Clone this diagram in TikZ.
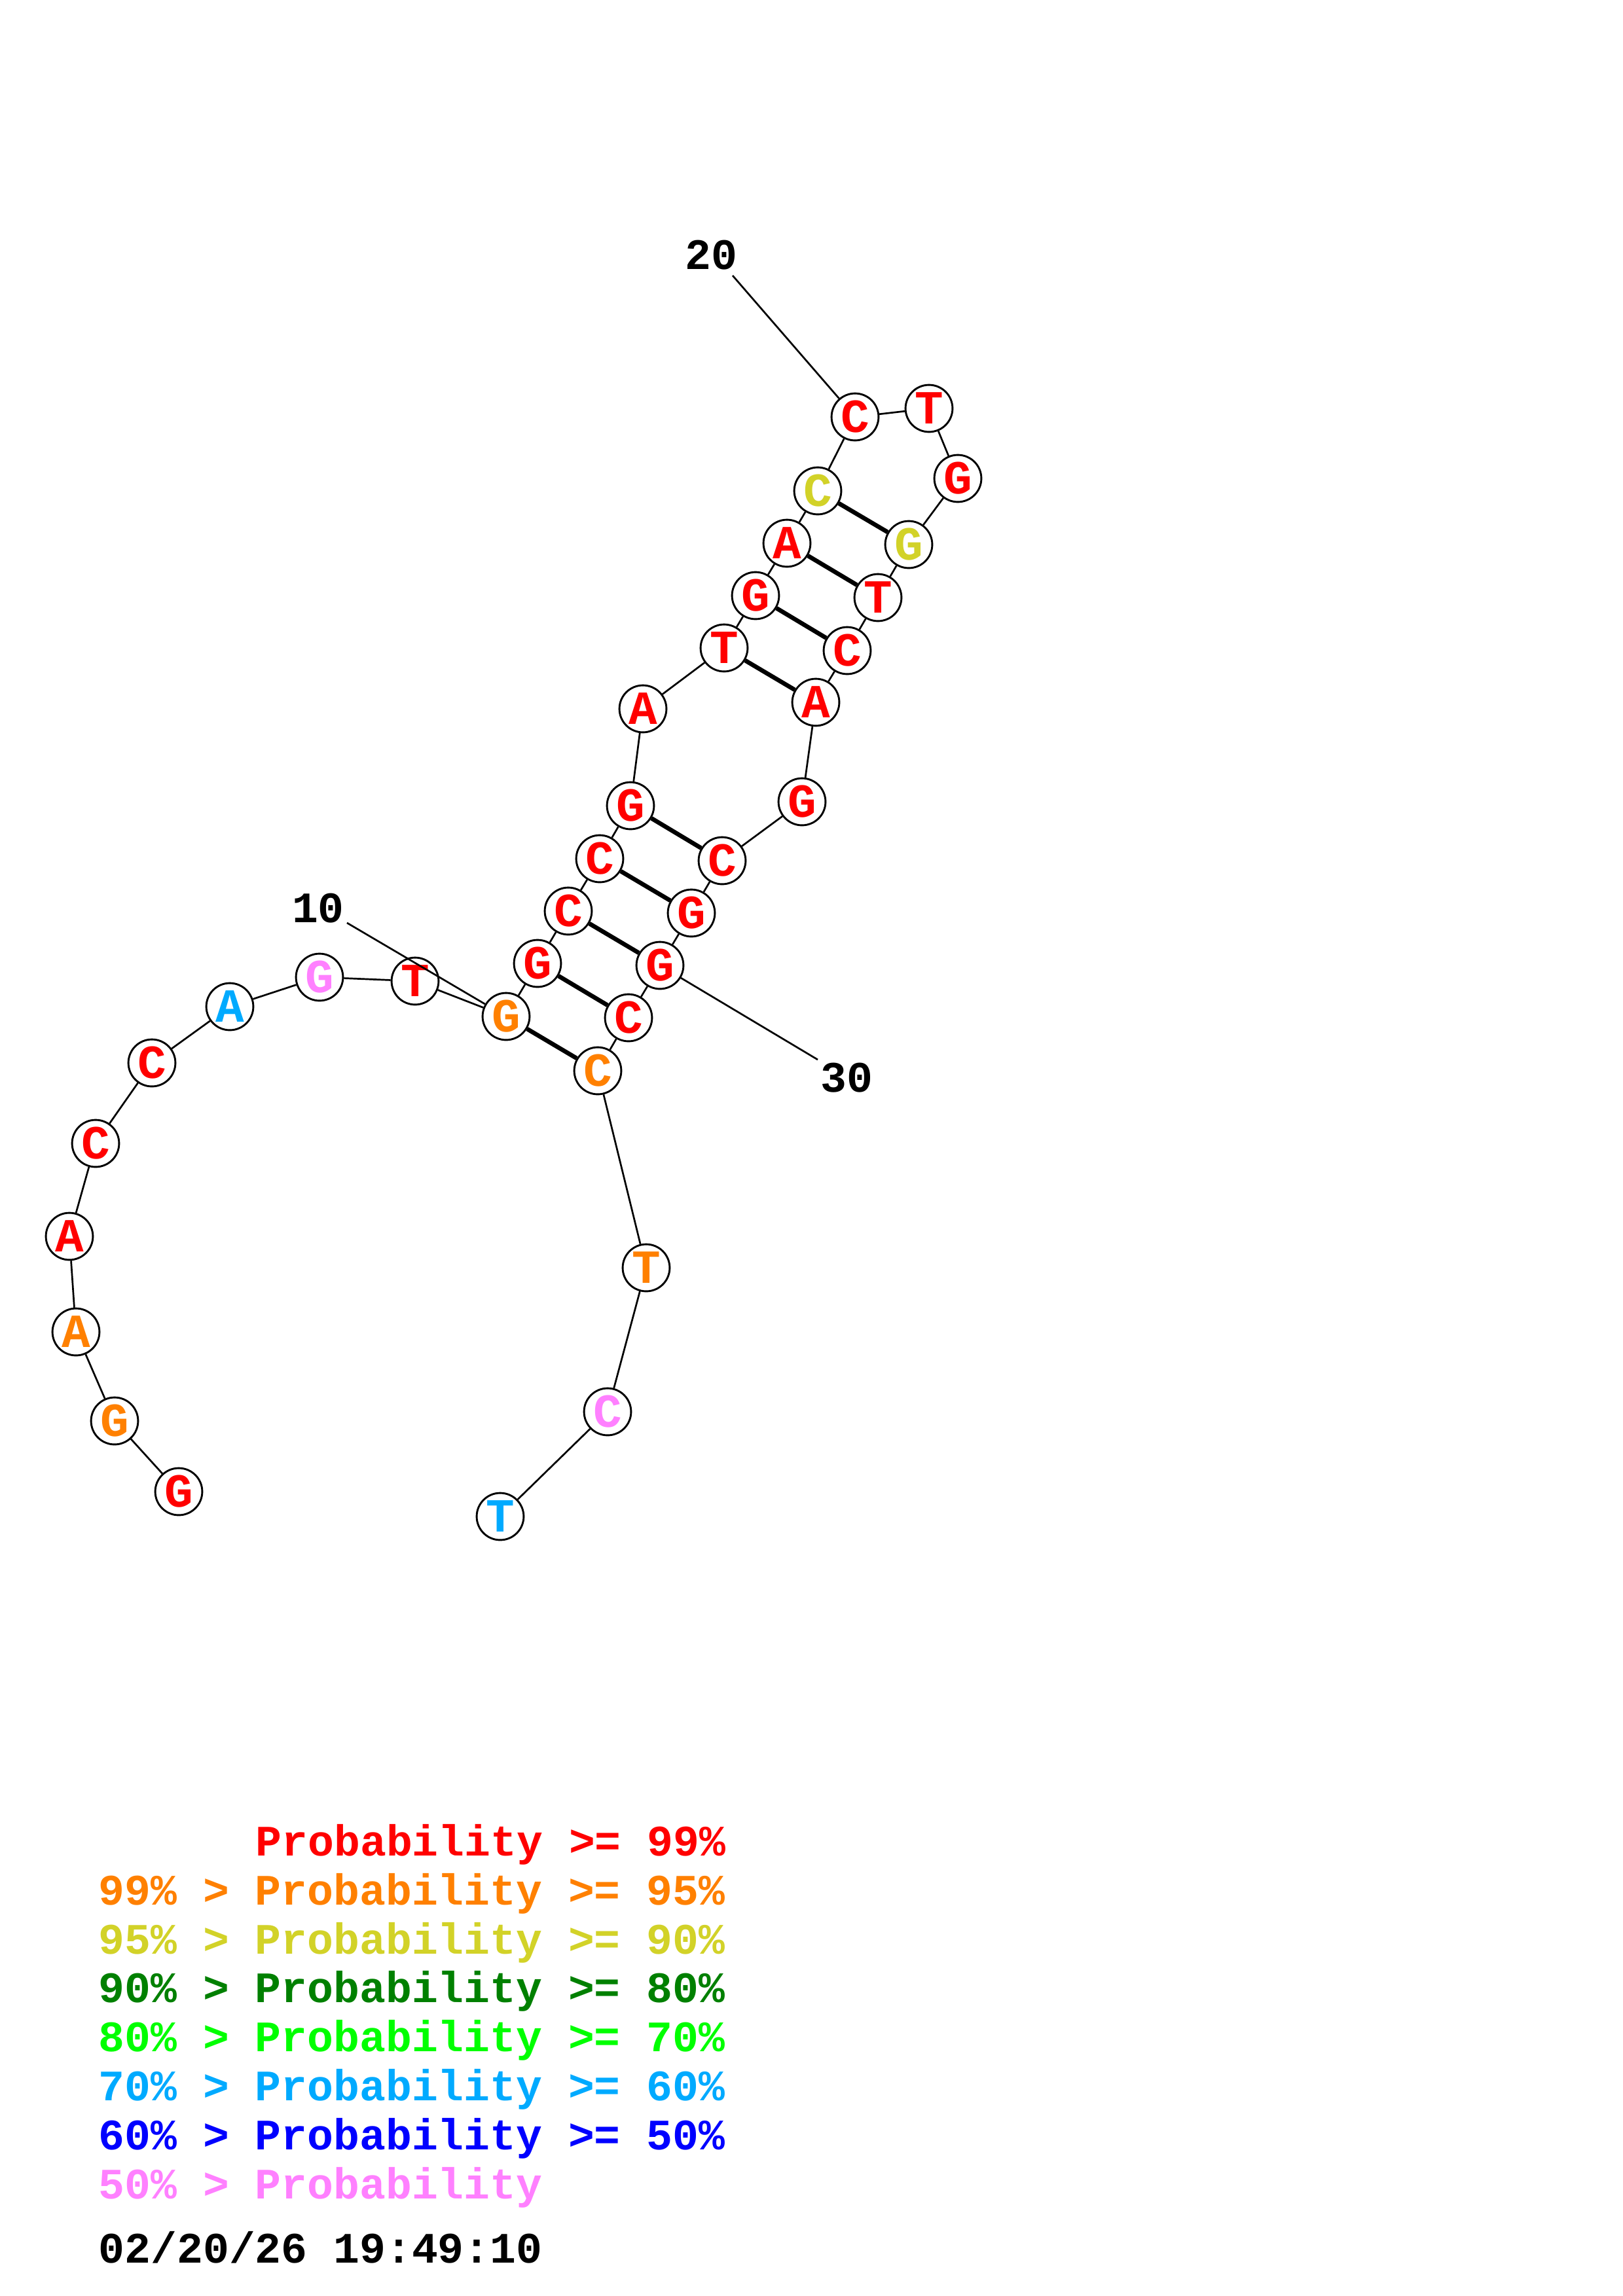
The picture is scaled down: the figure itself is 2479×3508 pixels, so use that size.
\documentclass[tikz,border=0pt]{standalone}
\usepackage{fontspec}
\setmonofont{Liberation Mono}
\definecolor{pr99}{RGB}{255,0,0}
\definecolor{pr95}{RGB}{255,128,0}
\definecolor{pr90}{RGB}{210,210,40}
\definecolor{pr80}{RGB}{0,128,0}
\definecolor{pr70}{RGB}{0,255,0}
\definecolor{pr60}{RGB}{0,170,255}
\definecolor{pr50}{RGB}{0,0,255}
\definecolor{prlow}{RGB}{255,128,255}
\begin{document}
\begin{tikzpicture}[x=0.0846667mm,y=-0.0846667mm,
  base/.style={circle,draw=black,line width=0.7pt,fill=white,minimum size=17.3pt,inner sep=0pt,
    font=\fontsize{17.5}{17.5}\selectfont\ttfamily\bfseries},
  backbone/.style={line width=0.65pt},
  pair/.style={line width=1.6pt},
  numlab/.style={inner sep=0pt,font=\fontsize{16}{16}\selectfont\ttfamily\bfseries},
  legend/.style={inner sep=0pt,anchor=base west,font=\fontsize{16}{16}\selectfont\ttfamily\bfseries}]
\useasboundingbox (0,0) rectangle (2479,3508);
\fill[white] (0,0) rectangle (2479,3508);
% bases
\node[base,text=pr99] (n1) at (273,2279) {G};
\node[base,text=pr95] (n2) at (175,2171) {G};
\node[base,text=pr95] (n3) at (116,2035) {A};
\node[base,text=pr99] (n4) at (106,1889) {A};
\node[base,text=pr99] (n5) at (146,1747) {C};
\node[base,text=pr99] (n6) at (232,1624) {C};
\node[base,text=pr60] (n7) at (351,1538) {A};
\node[base,text=prlow] (n8) at (488,1493) {G};
\node[base,text=pr99] (n9) at (634,1499) {T};
\node[base,text=pr95] (n10) at (773,1553) {G};
\node[base,text=pr99] (n11) at (821,1472) {G};
\node[base,text=pr99] (n12) at (868,1392) {C};
\node[base,text=pr99] (n13) at (916,1312) {C};
\node[base,text=pr99] (n14) at (963,1231) {G};
\node[base,text=pr99] (n15) at (982,1083) {A};
\node[base,text=pr99] (n16) at (1106,990) {T};
\node[base,text=pr99] (n17) at (1154,910) {G};
\node[base,text=pr99] (n18) at (1202,830) {A};
\node[base,text=pr90] (n19) at (1249,750) {C};
\node[base,text=pr99] (n20) at (1306,637) {C};
\node[base,text=pr99] (n21) at (1419,624) {T};
\node[base,text=pr99] (n22) at (1463,731) {G};
\node[base,text=pr90] (n23) at (1388,832) {G};
\node[base,text=pr99] (n24) at (1341,913) {T};
\node[base,text=pr99] (n25) at (1294,994) {C};
\node[base,text=pr99] (n26) at (1246,1073) {A};
\node[base,text=pr99] (n27) at (1225,1225) {G};
\node[base,text=pr99] (n28) at (1103,1315) {C};
\node[base,text=pr99] (n29) at (1056,1395) {G};
\node[base,text=pr99] (n30) at (1008,1475) {G};
\node[base,text=pr99] (n31) at (960,1555) {C};
\node[base,text=pr95] (n32) at (913,1636) {C};
\node[base,text=pr95] (n33) at (987,1937) {T};
\node[base,text=prlow] (n34) at (928,2157) {C};
\node[base,text=pr60] (n35) at (764,2317) {T};
% backbone
\foreach \a [evaluate=\a as \b using int(\a+1)] in {1,...,34}
  \draw[backbone] (n\a) -- (n\b);
% pairs
\foreach \a/\b in {10/32,11/31,12/30,13/29,14/28,16/26,17/25,18/24,19/23}
  \draw[pair] (n\a) -- (n\b);
% position labels
\node[numlab] (lab10) at (486,1388) {10};
\node[numlab] (lab20) at (1086,390) {20};
\node[numlab] (lab30) at (1293,1647) {30};
\coordinate (t10) at (530,1410);
\coordinate (t20) at (1119,421);
\coordinate (t30) at (1249,1619);
\draw[backbone] (t10) -- (n10);
\draw[backbone] (t20) -- (n20);
\draw[backbone] (n30) -- (t30);
% legend
\node[legend,text=pr99] (l1) at (390,2835) {Probability >= 99\%};
\node[legend,text=pr95] (l2) at (150,2910) {99\% > Probability >= 95\%};
\node[legend,text=pr90] (l3) at (150,2985) {95\% > Probability >= 90\%};
\node[legend,text=pr80] (l4) at (150,3059) {90\% > Probability >= 80\%};
\node[legend,text=pr70] (l5) at (150,3134) {80\% > Probability >= 70\%};
\node[legend,text=pr60] (l6) at (150,3209) {70\% > Probability >= 60\%};
\node[legend,text=pr50] (l7) at (150,3284) {60\% > Probability >= 50\%};
\node[legend,text=prlow] (l8) at (150,3359) {50\% > Probability};
\node[legend,text=black] (date) at (150,3457) {02/20/26 19:49:10};
\end{tikzpicture}
\end{document}
